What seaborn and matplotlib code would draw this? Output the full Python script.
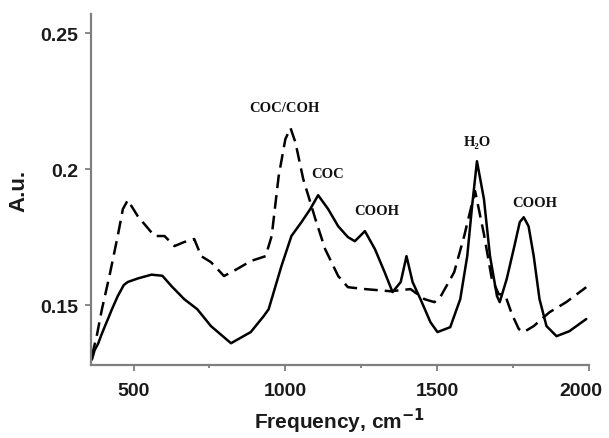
import numpy as np
import pandas as pd
import matplotlib
matplotlib.use("Agg")
import matplotlib.pyplot as plt
import matplotlib.transforms as mtrans
import seaborn as sns
from matplotlib.ticker import MultipleLocator

# Solid spectrum
solid_x = [363, 372, 383, 394, 406, 418, 429, 448, 468, 481, 514, 559, 595, 625, 667,
           710, 755, 821, 886, 929, 945, 987, 1020, 1053, 1082, 1108, 1141, 1174,
           1206, 1229, 1262, 1295, 1327, 1353, 1380, 1399, 1419, 1445, 1478, 1501,
           1543, 1576, 1599, 1615, 1631, 1654, 1674, 1697, 1706, 1729, 1752, 1772,
           1785, 1801, 1818, 1837, 1860, 1893, 1935, 1991]
solid_y = [0.130, 0.1335, 0.1357, 0.1390, 0.1423, 0.1455, 0.1485, 0.1533, 0.1574,
           0.1585, 0.1598, 0.1612, 0.1608, 0.1570, 0.1522, 0.1485, 0.1423, 0.1360,
           0.1401, 0.1460, 0.1485, 0.1643, 0.1754, 0.1805, 0.1853, 0.1904, 0.1853,
           0.1790, 0.1750, 0.1735, 0.1772, 0.1706, 0.1621, 0.1548, 0.1585, 0.1680,
           0.1585, 0.1522, 0.1437, 0.1401, 0.1419, 0.1522, 0.1680, 0.1864, 0.2029,
           0.1890, 0.1680, 0.1533, 0.1511, 0.1596, 0.1706, 0.1805, 0.1823, 0.1790,
           0.1680, 0.1522, 0.1423, 0.1386, 0.1404, 0.1449]

# Dashed spectrum
dash_x = [363, 380, 396, 422, 448, 465, 481, 514, 569, 602, 635, 667, 700, 723, 755,
          798, 840, 886, 935, 955, 978, 1000, 1017, 1033, 1059, 1076, 1099, 1131,
          1174, 1206, 1262, 1347, 1412, 1458, 1491, 1510, 1556, 1589, 1608, 1625,
          1654, 1680, 1703, 1723, 1746, 1769, 1785, 1818, 1870, 1925, 1991]
dash_y = [0.1313, 0.1393, 0.1485, 0.1614, 0.1754, 0.1853, 0.1886, 0.1827, 0.1754,
          0.1754, 0.1717, 0.1732, 0.1743, 0.1680, 0.1658, 0.1607, 0.1632, 0.1662,
          0.1680, 0.1754, 0.1974, 0.2110, 0.2151, 0.2099, 0.1963, 0.1901, 0.1816,
          0.1706, 0.1607, 0.1566, 0.1559, 0.1551, 0.1559, 0.1522, 0.1511, 0.1529,
          0.1621, 0.1754, 0.1842, 0.1919, 0.1761, 0.1596, 0.1540, 0.1540, 0.1467,
          0.1412, 0.1401, 0.1423, 0.1474, 0.1511, 0.1566]

labels = ["COC/COH", "COC", "COOH", "H₂O", "COOH"]
label_x = [997, 1138, 1301, 1631, 1821]
label_y = [0.2228, 0.1982, 0.1849, 0.2103, 0.1879]

xticks = [500, 1000, 1500, 2000]
yticks = [0.15, 0.2, 0.25]
ytick_labels = ["0.15", "0.2", "0.25"]

sns.set_style("ticks")
plt.rcParams['font.family'] = ['Liberation Sans', 'DejaVu Sans']

fig = plt.figure(figsize=(6.09, 4.39), dpi=100)
ax = fig.add_axes([91/609, 1-366/439, (589-91)/609, (366-15)/439])

df_s = pd.DataFrame({"x": solid_x, "y": solid_y})
df_d = pd.DataFrame({"x": dash_x, "y": dash_y})
sns.lineplot(data=df_s, x="x", y="y", ax=ax, color="black", lw=1.8,
             sort=False, estimator=None)
sns.lineplot(data=df_d, x="x", y="y", ax=ax, color="black", lw=1.8,
             sort=False, estimator=None, linestyle=(0, (5.5, 2.8)))

ax.set_xlim(360, 2000)
ax.set_ylim(0.128, 0.257)
ax.set_xticks(xticks)
ax.set_xticklabels([str(t) for t in xticks])
ax.xaxis.set_minor_locator(MultipleLocator(250))
ax.set_yticks(yticks)
ax.set_yticklabels(ytick_labels)

sns.despine(ax=ax)
for sp in ["left", "bottom"]:
    ax.spines[sp].set_color("#7f7f7f")
    ax.spines[sp].set_linewidth(1.6)
ax.tick_params(axis="both", which="major", color="#7f7f7f", width=1.3, length=4,
               labelsize=14, labelcolor="#1a1a1a")
ax.tick_params(axis="x", which="major", pad=8)
ax.tick_params(axis="y", which="major", pad=5)
ax.tick_params(axis="x", which="minor", color="#7f7f7f", width=1.3, length=2)
for t in ax.get_xticklabels() + ax.get_yticklabels():
    t.set_fontweight("bold")
# shift last x tick label left so it stays inside the figure
last = ax.get_xticklabels()[-1]
last.set_transform(last.get_transform() +
                   mtrans.ScaledTranslation(-6/72, 0, fig.dpi_scale_trans))

ax.set_xlabel(r"Frequency, cm$^{\mathbf{-1}}$", fontsize=15, fontweight="bold",
              color="#1a1a1a", labelpad=5)
ax.set_ylabel("A.u.", fontsize=16, fontweight="bold", color="#1a1a1a", labelpad=8)

for t, x, y in zip(labels, label_x, label_y):
    ax.text(x, y, t, ha="center", va="center", fontsize=10.5, fontweight="bold",
            family=["Liberation Serif", "DejaVu Serif"], color="#111111")

fig.savefig("out.png", dpi=100)
